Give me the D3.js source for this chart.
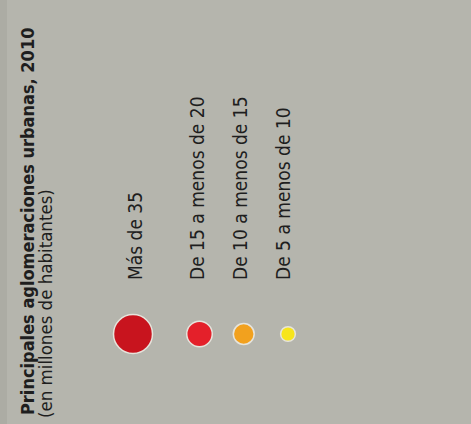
<!DOCTYPE html>
<html>
<head>
<meta charset="utf-8">
<script src="https://cdn.jsdelivr.net/npm/d3@7"></script>
<style>
  body { margin: 0; background: #b5b5ad; }
  svg { display: block; }
  text { font-family: "DejaVu Sans Condensed", "DejaVu Sans", sans-serif; fill: #1e1e1e; }
</style>
</head>
<body>
<svg width="471" height="424"></svg>
<script>
var title = "Principales aglomeraciones urbanas, 2010",
    subtitle = "(en millones de habitantes)";

// legend classes, millions of inhabitants (lower bound of each class)
var classes = ["Más de 35", "De 15 a menos de 20", "De 10 a menos de 15", "De 5 a menos de 10"],
    lowerBound = [35, 15, 10, 5],
    colors = ["#c8141e", "#e4202a", "#f2a11e", "#f7e51c"];

var svg = d3.select("svg"),
    width = +svg.attr("width"),
    height = +svg.attr("height");

svg.append("rect")
    .attr("width", width)
    .attr("height", height)
    .attr("fill", "#b5b5ad");

svg.append("rect")
    .attr("width", 7)
    .attr("height", height)
    .attr("fill", "#acaca4");

// title block, rotated
var head = svg.append("g")
    .attr("transform", "translate(34,415) rotate(-90)");

head.append("text")
    .attr("font-size", 18)
    .attr("font-weight", "bold")
    .text(title);

head.append("text")
    .attr("x", -3)
    .attr("y", 18)
    .attr("font-size", 18.5)
    .text(subtitle);

// column positions along the legend (the big circle needs more room)
var cx = d3.scaleLinear()
    .domain([0, 1, 3])
    .range([133, 199.5, 288]);

var tx = d3.scaleLinear()
    .domain([0, 1, 3])
    .range([142, 204, 290]);

var r = d3.scaleSqrt()
    .domain([0, 35])
    .range([0, 19.5]);

var item = svg.selectAll(".item")
    .data(classes)
    .enter().append("g")
      .attr("class", "item");

item.append("circle")
    .attr("cx", function(d, i) { return cx(i); })
    .attr("cy", 334)
    .attr("r", function(d, i) { return r(lowerBound[i]); })
    .attr("fill", function(d, i) { return colors[i]; })
    .attr("stroke", "#e6e4dc")
    .attr("stroke-width", 1.5);

item.append("text")
    .attr("transform", function(d, i) { return "translate(" + tx(i) + ",280) rotate(-90)"; })
    .attr("font-size", 19)
    .text(function(d) { return d; });
</script>
</body>
</html>
